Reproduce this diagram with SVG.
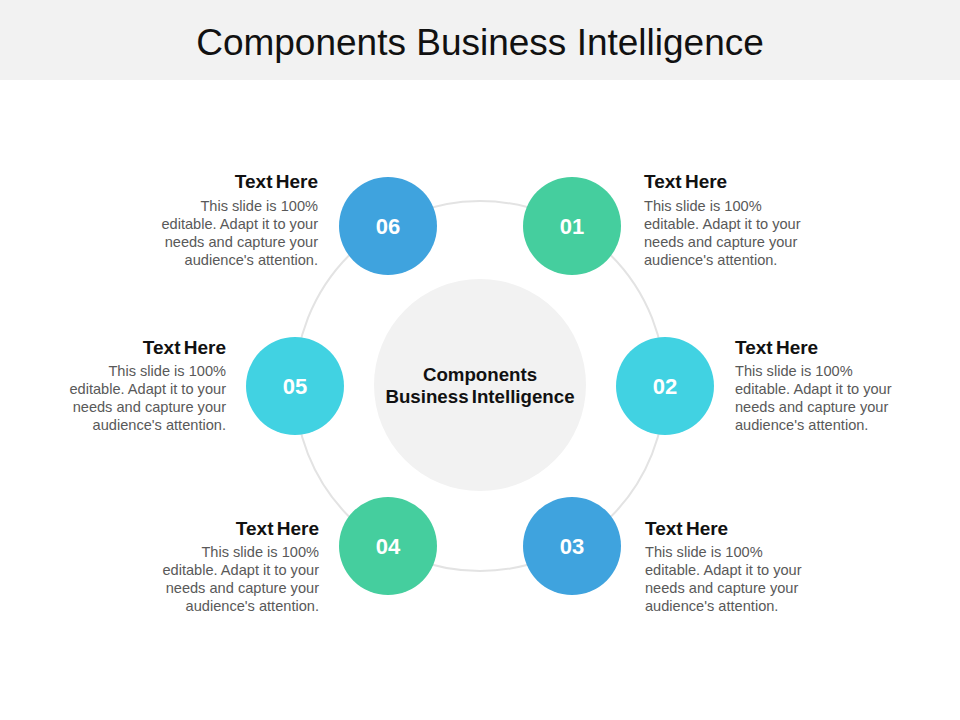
<svg xmlns="http://www.w3.org/2000/svg" width="960" height="720" viewBox="0 0 960 720">
<style>
.title{font-family:"Liberation Sans",Arial,sans-serif;font-size:37px;fill:#111}
.head{font-family:"Liberation Sans",Arial,sans-serif;font-size:19px;font-weight:bold;fill:#111;word-spacing:-2px}
.body{font-family:"Liberation Sans",Arial,sans-serif;font-size:14.6px;fill:#595959}
.num{font-family:"Liberation Sans",Arial,sans-serif;font-size:22px;font-weight:bold;fill:#fff;text-anchor:middle}
.ctr{font-family:"Liberation Sans",Arial,sans-serif;font-size:18.7px;font-weight:bold;fill:#111;text-anchor:middle;word-spacing:-2px}
.blue{fill:#3FA3DE}
.green{fill:#45CE9E}
.cyan{fill:#41D2E2}
.l{text-anchor:end}
</style>
<rect x="0" y="0" width="960" height="80" fill="#f2f2f2"/>
<text class="title" x="480" y="55" text-anchor="middle">Components Business Intelligence</text>
<g id="connectors">
<circle cx="480" cy="386" r="185" fill="none" stroke="#e3e3e3" stroke-width="2"/>
</g>
<g id="center">
<circle cx="480" cy="385" r="106" fill="#f2f2f2"/>
<text class="ctr" x="480" y="381">Components</text>
<text class="ctr" x="480" y="403">Business Intelligence</text>
</g>
<g id="node01">
<circle class="green" cx="572" cy="226" r="49"/>
<text class="num" x="572" y="234">01</text>
<text class="head" x="644" y="188">Text Here</text>
<text class="body" x="644" y="211">This slide is 100%</text>
<text class="body" x="644" y="229">editable. Adapt it to your</text>
<text class="body" x="644" y="247">needs and capture your</text>
<text class="body" x="644" y="265">audience's attention.</text>
</g>
<g id="node02">
<circle class="cyan" cx="665" cy="386" r="49"/>
<text class="num" x="665" y="394">02</text>
<text class="head" x="735" y="354">Text Here</text>
<text class="body" x="735" y="376">This slide is 100%</text>
<text class="body" x="735" y="394">editable. Adapt it to your</text>
<text class="body" x="735" y="412">needs and capture your</text>
<text class="body" x="735" y="430">audience's attention.</text>
</g>
<g id="node03">
<circle class="blue" cx="572" cy="546" r="49"/>
<text class="num" x="572" y="554">03</text>
<text class="head" x="645" y="535">Text Here</text>
<text class="body" x="645" y="557">This slide is 100%</text>
<text class="body" x="645" y="575">editable. Adapt it to your</text>
<text class="body" x="645" y="593">needs and capture your</text>
<text class="body" x="645" y="611">audience's attention.</text>
</g>
<g id="node04">
<circle class="green" cx="388" cy="546" r="49"/>
<text class="num" x="388" y="554">04</text>
<text class="head l" x="319" y="535">Text Here</text>
<text class="body l" x="319" y="557">This slide is 100%</text>
<text class="body l" x="319" y="575">editable. Adapt it to your</text>
<text class="body l" x="319" y="593">needs and capture your</text>
<text class="body l" x="319" y="611">audience's attention.</text>
</g>
<g id="node05">
<circle class="cyan" cx="295" cy="386" r="49"/>
<text class="num" x="295" y="394">05</text>
<text class="head l" x="226" y="354">Text Here</text>
<text class="body l" x="226" y="376">This slide is 100%</text>
<text class="body l" x="226" y="394">editable. Adapt it to your</text>
<text class="body l" x="226" y="412">needs and capture your</text>
<text class="body l" x="226" y="430">audience's attention.</text>
</g>
<g id="node06">
<circle class="blue" cx="388" cy="226" r="49"/>
<text class="num" x="388" y="234">06</text>
<text class="head l" x="318" y="188">Text Here</text>
<text class="body l" x="318" y="211">This slide is 100%</text>
<text class="body l" x="318" y="229">editable. Adapt it to your</text>
<text class="body l" x="318" y="247">needs and capture your</text>
<text class="body l" x="318" y="265">audience's attention.</text>
</g>
</svg>
